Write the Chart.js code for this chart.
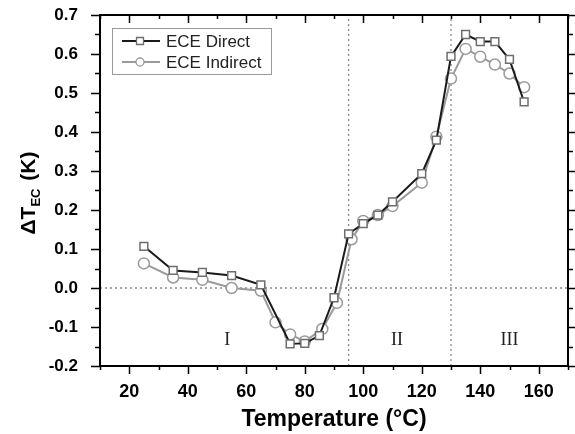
<!DOCTYPE html>
<html>
<head>
<meta charset="utf-8">
<script src="https://cdn.jsdelivr.net/npm/chart.js@4/dist/chart.umd.min.js"></script>
<style>
  html, body { margin: 0; padding: 0; background: #fff; }
  #wrap { width: 575px; height: 434px; }
</style>
</head>
<body>
<div id="wrap"><canvas id="ecChart" width="575" height="434"></canvas></div>
<script>
// data
const tempDirect = [25, 35, 45, 55, 65, 75, 80, 85, 90, 95, 100, 105, 110, 120, 125, 130, 135, 140, 145, 150, 155];
const dteDirect = [0.107, 0.045, 0.040, 0.032, 0.008, -0.143, -0.142, -0.122, -0.025, 0.139, 0.165, 0.187, 0.221, 0.293, 0.379, 0.594, 0.650, 0.632, 0.632, 0.586, 0.477];

const tempIndirect = [25, 35, 45, 55, 65, 70, 75, 80, 86, 91, 96, 100, 105, 110, 120, 125, 130, 135, 140, 145, 150, 155];
const dteIndirect = [0.063, 0.027, 0.021, 0.000, -0.007, -0.088, -0.119, -0.137, -0.105, -0.038, 0.125, 0.172, 0.187, 0.210, 0.270, 0.388, 0.537, 0.613, 0.593, 0.573, 0.550, 0.515];

const xTicks = [20, 40, 60, 80, 100, 120, 140, 160];
const yTicks = [-0.2, -0.1, 0.0, 0.1, 0.2, 0.3, 0.4, 0.5, 0.6, 0.7];
const regionBounds = [95, 130];
const regionLabels = ["I", "II", "III"];
const regionLabelX = [53.5, 111.5, 150];
const regionLabelY = -0.135;
const seriesNames = ["ECE Direct", "ECE Indirect"];

const X_MIN = 10, X_MAX = 170, Y_MIN = -0.2, Y_MAX = 0.7;

function zip(xs, ys) {
    return xs.map((x, i) => ({ x, y: ys[i] }));
}

const refLines = [
    { data: [{ x: X_MIN, y: 0 }, { x: X_MAX, y: 0 }] },
    ...regionBounds.map(b => ({ data: [{ x: b, y: Y_MIN }, { x: b, y: Y_MAX }] }))
].map(d => ({
    ...d,
    borderColor: '#8a8a8a',
    borderWidth: 1.3,
    borderDash: [2, 3],
    pointRadius: 0,
    showLine: true,
    order: 10
}));

// ticks, frame, titles, legend, region numerals
const decorPlugin = {
    id: 'decor',
    afterDraw(chart) {
        const { ctx, chartArea: a, scales } = chart;
        const sx = scales.x, sy = scales.y;
        ctx.save();
        ctx.strokeStyle = '#000';
        ctx.lineWidth = 1.5;
        ctx.beginPath();
        for (let v = X_MIN; v <= X_MAX; v += 10) {
            const px = Math.round(sx.getPixelForValue(v)) + 0.5;
            const len = v % 20 === 0 ? 8 : 4;
            ctx.moveTo(px, a.bottom); ctx.lineTo(px, a.bottom + len);
            ctx.moveTo(px, a.top); ctx.lineTo(px, a.top + len);
        }
        for (let i = 0; i <= 18; i++) {
            const v = Y_MIN + i * 0.05;
            const py = Math.round(sy.getPixelForValue(v)) + 0.5;
            const len = i % 2 === 0 ? 9 : 5;
            ctx.moveTo(a.left, py); ctx.lineTo(a.left - len, py);
            ctx.moveTo(a.right, py); ctx.lineTo(a.right + len, py);
        }
        ctx.stroke();
        ctx.lineWidth = 2;
        ctx.strokeRect(a.left, a.top, a.right - a.left, a.bottom - a.top);

        // region numerals
        ctx.fillStyle = '#222';
        ctx.font = '18px "Liberation Serif"';
        ctx.textAlign = 'center';
        ctx.textBaseline = 'middle';
        regionLabels.forEach((t, i) => {
            ctx.fillText(t, sx.getPixelForValue(regionLabelX[i]), sy.getPixelForValue(regionLabelY));
        });

        // x title
        ctx.fillStyle = '#000';
        ctx.font = 'bold 23px "Liberation Sans"';
        ctx.fillText('Temperature (°C)', (a.left + a.right) / 2, 420);

        // y title with subscript
        ctx.save();
        ctx.translate(29, 193);
        ctx.rotate(-Math.PI / 2);
        ctx.textAlign = 'left';
        const f1 = 'bold 21px "Liberation Sans"', f2 = 'bold 13px "Liberation Sans"';
        ctx.font = f1; const w1 = ctx.measureText('ΔT').width;
        ctx.font = f2; const w2 = ctx.measureText('EC').width + 2;
        ctx.font = f1; const w3 = ctx.measureText(' (K)').width;
        let x0 = -(w1 + w2 + w3) / 2;
        ctx.fillText('ΔT', x0, 0);
        ctx.font = f2; ctx.fillText('EC', x0 + w1, 7);
        ctx.font = f1; ctx.fillText(' (K)', x0 + w1 + w2, 0);
        ctx.restore();

        // legend
        const lx = 112, ly = 28, lw = 159, lh = 46;
        ctx.strokeStyle = '#999';
        ctx.lineWidth = 1;
        ctx.strokeRect(lx + 0.5, ly + 0.5, lw, lh);
        const ds = chart.data.datasets;
        [0, 1].forEach(i => {
            const y = ly + 13 + i * 21;
            ctx.strokeStyle = ds[i].borderColor;
            ctx.lineWidth = 2;
            ctx.beginPath(); ctx.moveTo(122, y); ctx.lineTo(160, y); ctx.stroke();
            ctx.fillStyle = '#fff';
            ctx.strokeStyle = ds[i].pointBorderColor;
            ctx.lineWidth = 1.3;
            ctx.beginPath();
            if (i === 0) ctx.rect(136.5, y - 3.5, 7, 7);
            else ctx.arc(140, y, 4, 0, Math.PI * 2);
            ctx.fill(); ctx.stroke();
            ctx.fillStyle = '#222';
            ctx.font = '17px "Liberation Sans"';
            ctx.textAlign = 'left';
            ctx.fillText(seriesNames[i], 166, y + 1);
        });
        ctx.restore();
    }
};

new Chart(document.getElementById('ecChart'), {
    type: 'scatter',
    data: {
        datasets: [
            {
                label: seriesNames[0],
                data: zip(tempDirect, dteDirect),
                showLine: true,
                borderColor: '#1a1a1a',
                borderWidth: 2,
                pointStyle: 'rect',
                pointRadius: 5.5,
                pointBorderColor: '#6e6e6e',
                pointBackgroundColor: '#fff',
                pointBorderWidth: 1.5,
                order: 1
            },
            {
                label: seriesNames[1],
                data: zip(tempIndirect, dteIndirect),
                showLine: true,
                borderColor: '#9a9a9a',
                borderWidth: 2,
                pointStyle: 'circle',
                pointRadius: 5.5,
                pointBorderColor: '#9a9a9a',
                pointBackgroundColor: '#fff',
                pointBorderWidth: 1.5,
                order: 2
            },
            ...refLines
        ]
    },
    options: {
        responsive: false,
        animation: false,
        layout: { padding: { top: 15, right: 5, left: 0, bottom: 0 } },
        plugins: { legend: { display: false }, tooltip: { enabled: false } },
        scales: {
            x: {
                type: 'linear',
                min: X_MIN, max: X_MAX,
                grid: { display: false },
                border: { display: false },
                afterBuildTicks: s => { s.ticks = xTicks.map(v => ({ value: v })); },
                afterFit: s => { s.height = 68; s.paddingLeft = 0; s.paddingRight = 0; },
                ticks: {
                    color: '#000',
                    padding: 7,
                    maxRotation: 0,
                    font: { family: '"Liberation Sans"', weight: 'bold', size: 18 },
                    callback: v => String(v)
                }
            },
            y: {
                min: Y_MIN, max: Y_MAX,
                grid: { display: false },
                border: { display: false },
                afterBuildTicks: s => { s.ticks = yTicks.map(v => ({ value: v })); },
                afterFit: s => { s.width = 100; s.paddingTop = 0; s.paddingBottom = 0; },
                ticks: {
                    color: '#000',
                    padding: 14,
                    font: { family: '"Liberation Sans"', weight: 'bold', size: 17 },
                    callback: v => Number(v).toFixed(1)
                }
            }
        }
    },
    plugins: [decorPlugin]
});
</script>
</body>
</html>
